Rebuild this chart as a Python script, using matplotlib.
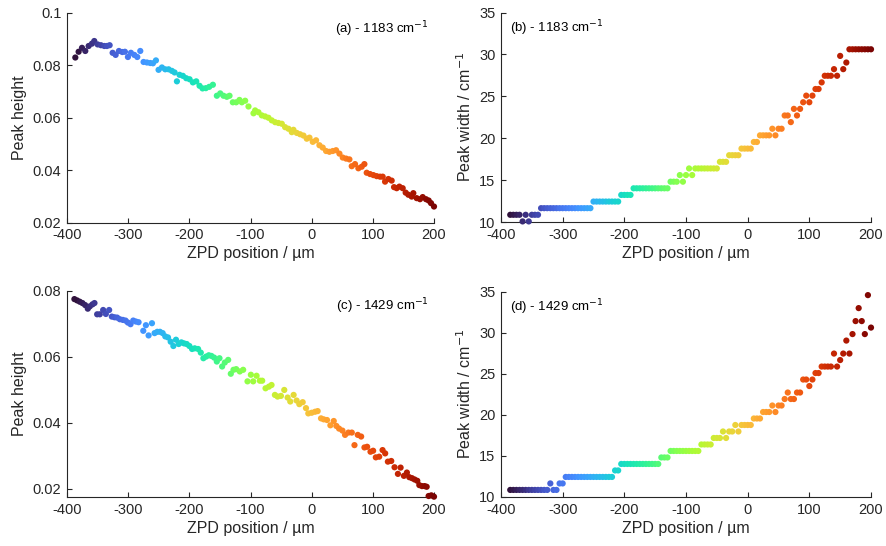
import numpy as np
import matplotlib
matplotlib.use("Agg")
import matplotlib.pyplot as plt
from matplotlib.ticker import FuncFormatter

plt.rcParams['font.family'] = ['Liberation Sans', 'DejaVu Sans']

# ---------------- data ----------------
# (a) peak height, 1183 cm-1
xa = [-386.4, -381.0, -375.5, -370.1, -364.6, -359.2, -355.4, -349.9, -344.5, -339.0,
      -334.7, -330.3, -325.4, -320.5, -315.1, -309.6, -305.3, -300.4, -295.5, -290.0,
      -285.1, -280.2, -274.8, -269.3, -263.9, -259.5, -254.6, -250.3, -244.8, -239.4,
      -233.9, -228.5, -224.1, -220.3, -216.0, -210.5, -205.1, -199.6, -194.2, -188.7,
      -183.3, -178.4, -173.0, -167.5, -161.5, -155.0, -149.5, -144.1, -138.7, -134.3,
      -128.9, -123.4, -118.0,
      -114.2, -108.7, -103.3, -95.1, -92.4, -87.0, -81.5, -76.1, -70.6, -65.2,
      -59.7, -54.3, -48.8, -43.4, -37.9, -32.5, -29.8, -24.3, -18.9, -13.4,
      -8.0, -3.6, 1.8, 7.2, 12.7, 18.1, 23.6, 29.0, 34.5, 39.9,
      45.4, 50.8, 56.3, 61.7, 65.5, 70.9, 76.4, 81.8, 86.2, 90.0,
      95.5, 100.9, 106.3, 111.8, 116.1, 120.0, 125.4, 130.8, 134.7, 139.0,
      143.4, 148.8, 153.7, 158.1, 163.5, 166.2, 171.7, 177.1, 181.5, 186.9,
      191.3, 195.1, 200.0]
ya = [0.0830, 0.0852, 0.0867, 0.0855, 0.0874, 0.0883, 0.0893, 0.0880, 0.0877, 0.0874,
      0.0874, 0.0877, 0.0848, 0.0840, 0.0855, 0.0851, 0.0852, 0.0832, 0.0848, 0.0840,
      0.0832, 0.0855, 0.0813, 0.0811, 0.0809, 0.0808, 0.0819, 0.0783, 0.0792, 0.0785,
      0.0785, 0.0779, 0.0773, 0.0739, 0.0764, 0.0760, 0.0751, 0.0747, 0.0735, 0.0739,
      0.0722, 0.0712, 0.0713, 0.0718, 0.0726, 0.0684, 0.0693, 0.0684, 0.0680, 0.0684,
      0.0659, 0.0659, 0.0668,
      0.0659, 0.0665, 0.0643, 0.0617, 0.0628, 0.0621, 0.0609, 0.0605, 0.0600, 0.0590,
      0.0583, 0.0580, 0.0577, 0.0564, 0.0558, 0.0545, 0.0554, 0.0542, 0.0537, 0.0532,
      0.0520, 0.0524, 0.0508, 0.0514, 0.0495, 0.0486, 0.0473, 0.0470, 0.0473, 0.0476,
      0.0463, 0.0448, 0.0444, 0.0441, 0.0415, 0.0423, 0.0407, 0.0413, 0.0423, 0.0390,
      0.0385, 0.0381, 0.0377, 0.0375, 0.0375, 0.0356, 0.0366, 0.0360, 0.0335, 0.0331,
      0.0337, 0.0331, 0.0314, 0.0306, 0.0299, 0.0312, 0.0293, 0.0289, 0.0297, 0.0289,
      0.0284, 0.0274, 0.0261]

# (c) peak height, 1429 cm-1
xc = [-387.9, -383.5, -379.1, -374.8, -370.4, -366.0, -362.7, -358.4, -355.1, -350.7,
      -346.4, -340.9, -336.5, -331.1, -326.7, -322.3, -318.0, -313.6, -308.7, -304.3,
      -300.5, -296.1, -291.7, -287.3, -283.0, -275.3, -271.0, -266.6, -261.1, -256.8,
      -252.4, -248.0, -243.6, -239.3, -234.9, -230.5, -226.1, -221.8, -217.4, -213.0,
      -208.7, -204.3, -199.9, -195.5, -191.2, -185.7, -181.3, -177.0, -172.6, -168.2,
      -163.9, -159.5, -155.1, -150.7, -146.4, -142.0, -136.5, -132.2, -127.8, -123.4,
      -117.5, -112.0, -104.9, -99.4, -95.6, -90.1, -84.7, -80.9, -75.4, -69.9,
      -65.6, -60.1, -55.7, -50.3, -44.8, -39.3, -35.0, -29.5, -24.6, -20.2,
      -14.7, -9.3, -5.5, 0.0, 5.5, 9.8, 15.3, 19.7, 25.1, 30.6,
      36.1, 40.4, 44.8, 50.3, 54.6, 60.1, 65.6, 70.0, 75.4, 80.9,
      86.3, 90.7, 96.2, 100.5, 104.9, 110.4, 115.9, 120.2, 124.6, 130.1,
      135.5, 141.0, 145.4, 150.8, 155.7, 159.6, 164.0, 168.3, 172.7, 176.0,
      180.3, 184.7, 188.0, 191.2, 195.6, 200.0]
yc = [0.0774, 0.0770, 0.0766, 0.0762, 0.0756, 0.0745, 0.0752, 0.0758, 0.0762, 0.0728,
      0.0728, 0.0741, 0.0729, 0.0741, 0.0721, 0.0719, 0.0718, 0.0713, 0.0711, 0.0709,
      0.0703, 0.0698, 0.0709, 0.0706, 0.0704, 0.0678, 0.0695, 0.0664, 0.0701, 0.0671,
      0.0675, 0.0675, 0.0671, 0.0661, 0.0658, 0.0645, 0.0632, 0.0651, 0.0638, 0.0643,
      0.0640, 0.0638, 0.0632, 0.0623, 0.0625, 0.0623, 0.0612, 0.0595, 0.0600, 0.0604,
      0.0602, 0.0597, 0.0585, 0.0595, 0.0570, 0.0582, 0.0590, 0.0548, 0.0560, 0.0562,
      0.0555, 0.0560, 0.0525, 0.0545, 0.0525, 0.0542, 0.0527, 0.0527, 0.0504, 0.0509,
      0.0514, 0.0484, 0.0479, 0.0481, 0.0499, 0.0476, 0.0464, 0.0484, 0.0467, 0.0456,
      0.0462, 0.0444, 0.0428, 0.0430, 0.0433, 0.0435, 0.0413, 0.0410, 0.0408, 0.0392,
      0.0405, 0.0390, 0.0382, 0.0376, 0.0363, 0.0370, 0.0370, 0.0332, 0.0363, 0.0358,
      0.0325, 0.0327, 0.0312, 0.0315, 0.0295, 0.0297, 0.0317, 0.0307, 0.0282, 0.0284,
      0.0265, 0.0245, 0.0264, 0.0239, 0.0249, 0.0235, 0.0232, 0.0228, 0.0224, 0.0211,
      0.0208, 0.0208, 0.0206, 0.0178, 0.0180, 0.0176]

# ZPD positions for the peak-width panels (µm)
xw = [-385, -380, -375, -370, -365, -360, -355, -350, -345, -340,
      -335, -330, -325, -320, -315, -310, -305, -300, -295, -290,
      -285, -280, -275, -270, -265, -260, -255, -250, -245, -240,
      -235, -230, -225, -220, -215, -210, -205, -200, -195, -190,
      -185, -180, -175, -170, -165, -160, -155, -150, -145, -140,
      -135, -130, -125, -120, -115, -110, -105, -100, -95, -90,
      -85, -80, -75, -70, -65, -60, -55, -50, -45, -40,
      -35, -30, -25, -20, -15, -10, -5, 0, 5, 10,
      15, 20, 25, 30, 35, 40, 45, 50, 55, 60,
      65, 70, 75, 80, 85, 90, 95, 100, 105, 110,
      115, 120, 125, 130, 135, 140, 145, 150, 155, 160,
      165, 170, 175, 180, 185, 190, 195, 200]

# (b) peak width, 1183 cm-1
wb = [10.86, 10.86, 10.86, 10.86, 10.07, 10.86, 10.07, 10.86, 10.86, 10.86,
      11.65, 11.65, 11.65, 11.65, 11.65, 11.65, 11.65, 11.65, 11.65, 11.65,
      11.65, 11.65, 11.65, 11.65, 11.65, 11.65, 11.65, 12.44, 12.44, 12.44,
      12.44, 12.44, 12.44, 12.44, 12.44, 12.44, 13.23, 13.23, 13.23, 13.23,
      14.02, 14.02, 14.02, 14.02, 14.02, 14.02, 14.02, 14.02, 14.02, 14.02,
      14.02, 14.02, 14.81, 14.81, 14.81, 15.60, 14.81, 15.60, 16.39, 15.60,
      16.39, 16.39, 16.39, 16.39, 16.39, 16.39, 16.39, 16.39, 17.18, 17.18,
      17.18, 17.97, 17.97, 17.97, 17.97, 18.76, 18.76, 18.76, 18.76, 19.55,
      19.55, 20.34, 20.34, 20.34, 20.34, 21.13, 20.34, 21.13, 21.13, 22.71,
      22.71, 21.92, 23.50, 22.71, 23.50, 24.29, 25.08, 24.29, 25.08, 25.87,
      25.87, 26.66, 27.45, 27.45, 27.45, 28.24, 27.45, 29.82, 28.24, 29.03,
      30.61, 30.61, 30.61, 30.61, 30.61, 30.61, 30.61, 30.61]

# (d) peak width, 1429 cm-1
wd = [10.86, 10.86, 10.86, 10.86, 10.86, 10.86, 10.86, 10.86, 10.86, 10.86,
      10.86, 10.86, 10.86, 11.65, 10.86, 10.86, 11.65, 11.65, 12.44, 12.44,
      12.44, 12.44, 12.44, 12.44, 12.44, 12.44, 12.44, 12.44, 12.44, 12.44,
      12.44, 12.44, 12.44, 12.44, 13.23, 13.23, 14.02, 14.02, 14.02, 14.02,
      14.02, 14.02, 14.02, 14.02, 14.02, 14.02, 14.02, 14.02, 14.02, 14.81,
      14.81, 14.81, 15.60, 15.60, 15.60, 15.60, 15.60, 15.60, 15.60, 15.60,
      15.60, 15.60, 16.39, 16.39, 16.39, 16.39, 17.18, 17.18, 17.18, 17.97,
      17.18, 17.97, 17.97, 18.76, 17.97, 18.76, 18.76, 18.76, 18.76, 19.55,
      19.55, 19.55, 20.34, 20.34, 20.34, 21.13, 20.34, 21.13, 21.13, 21.92,
      22.71, 21.92, 21.92, 22.71, 22.71, 24.29, 24.29, 23.50, 24.29, 25.08,
      25.08, 25.87, 25.87, 25.87, 25.87, 27.45, 25.87, 26.66, 27.45, 29.03,
      27.45, 29.82, 31.40, 32.98, 31.40, 29.82, 34.56, 30.61]

xticks = [-400, -300, -200, -100, 0, 100, 200]
height_ticks = [0.02, 0.04, 0.06, 0.08, 0.1]
height_ticks_c = [0.02, 0.04, 0.06, 0.08]
width_ticks = [10, 15, 20, 25, 30, 35]

xlabel = "ZPD position / µm"
labels = ["(a) - 1183 cm$^{-1}$", "(b) - 1183 cm$^{-1}$",
          "(c) - 1429 cm$^{-1}$", "(d) - 1429 cm$^{-1}$"]

# ---------------- figure ----------------
W, H = 886, 546
fig = plt.figure(figsize=(W / 100, H / 100), dpi=100)

def pos(l, r, t, b):
    return [l / W, 1 - b / H, (r - l) / W, (b - t) / H]

axa = fig.add_axes(pos(67, 434, 13, 222.5))
axb = fig.add_axes(pos(501, 871, 12.5, 222))
axc = fig.add_axes(pos(67, 434, 290.5, 497))
axd = fig.add_axes(pos(501, 871, 291.5, 497))

axis_col = '#262626'
fmt = FuncFormatter(lambda v, p: f"{v:g}")

def style(ax, ylim, yticks, ylab):
    ax.set_xlim(-400, 200)
    ax.set_ylim(*ylim)
    ax.set_xticks(xticks)
    ax.set_yticks(yticks)
    ax.xaxis.set_major_formatter(fmt)
    ax.yaxis.set_major_formatter(fmt)
    for s in ('top', 'right'):
        ax.spines[s].set_visible(False)
    for s in ('left', 'bottom'):
        ax.spines[s].set_color(axis_col)
        ax.spines[s].set_linewidth(0.8)
    ax.tick_params(direction='in', length=3.5, width=0.8, colors=axis_col,
                   labelsize=10.5, labelcolor='#262626', pad=4)
    ax.set_xlabel(xlabel, fontsize=11.5, color='#262626', labelpad=3)
    ax.set_ylabel(ylab, fontsize=11.5, color='#262626', labelpad=4)

def scat(ax, x, y):
    ax.scatter(x, y, c=x, cmap='turbo', vmin=-385, vmax=200, s=20,
               linewidths=0, clip_on=False, zorder=3)

scat(axa, xa, ya)
scat(axb, xw, wb)
scat(axc, xc, yc)
scat(axd, xw, wd)

style(axa, (0.02, 0.1), height_ticks, "Peak height")
style(axb, (10, 35), width_ticks, "Peak width / cm$^{-1}$")
style(axc, (0.0175, 0.08), height_ticks_c, "Peak height")
style(axd, (10, 35), width_ticks, "Peak width / cm$^{-1}$")

tkw = dict(fontsize=9.5, color='black', va='center')
axa.text(0.985, 0.925, labels[0], transform=axa.transAxes, ha='right', **tkw)
axb.text(0.025, 0.925, labels[1], transform=axb.transAxes, ha='left', **tkw)
axc.text(0.985, 0.925, labels[2], transform=axc.transAxes, ha='right', **tkw)
axd.text(0.025, 0.925, labels[3], transform=axd.transAxes, ha='left', **tkw)

fig.savefig("out.png", dpi=100)
